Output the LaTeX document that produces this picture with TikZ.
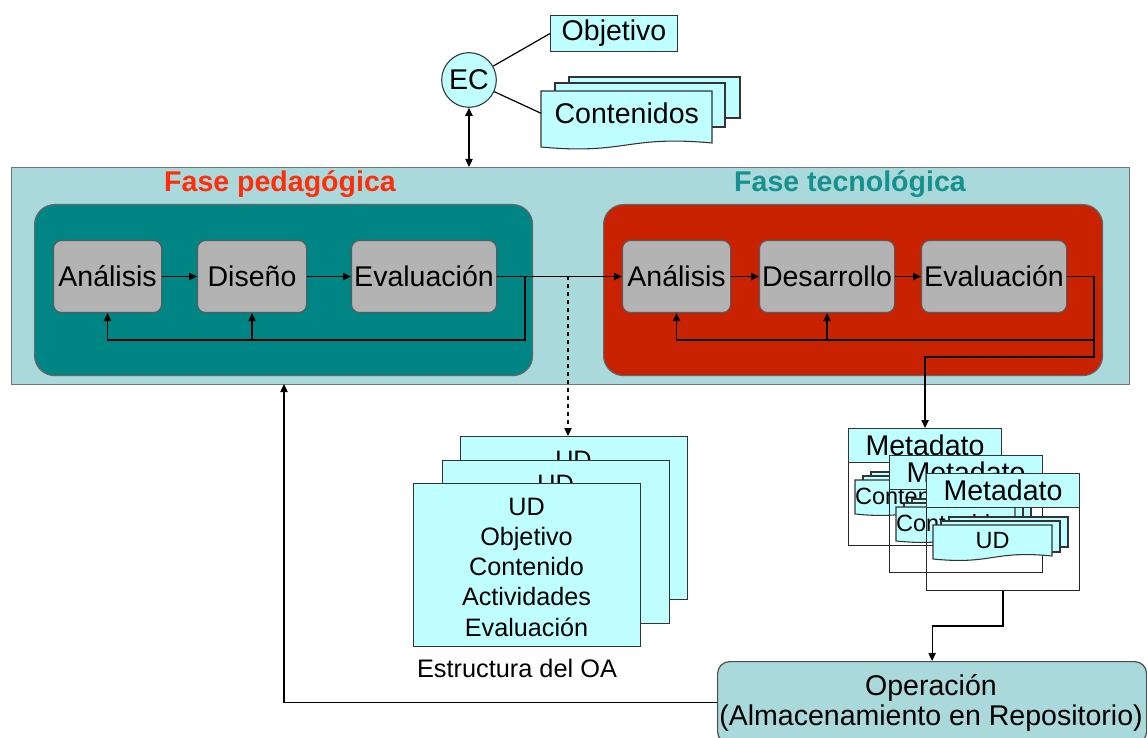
\documentclass[tikz,border=0pt]{standalone}
\usepackage{fontspec}
\setmainfont{Liberation Sans}
\usetikzlibrary{arrows.meta}
\definecolor{outerbg}{HTML}{AAD9DC}
\definecolor{tealbg}{HTML}{008585}
\definecolor{redbg}{HTML}{C82200}
\definecolor{graybox}{HTML}{B3B3B3}
\definecolor{cyanbox}{HTML}{BFFFFF}
\definecolor{titlered}{HTML}{FF2D0A}
\definecolor{titleteal}{HTML}{16918E}
\def\u{0.75pt}
\newcommand{\fbig}{\fontsize{21.4}{25}\selectfont}
\newcommand{\fmid}{\fontsize{18.9}{22.7}\selectfont}
\newcommand{\fsml}{\fontsize{17.6}{20}\selectfont}
% document shape: x1 y1 x2 y2 amplitude
\newcommand{\docshape}[5]{\filldraw[docst] (#1,#2) -- (#3,#2) -- (#3,{#4-#5}) .. controls ({(#1+#3)/2},{#4-3*#5}) and ({(#1+#3)/2},{#4+2*#5}) .. (#1,#4) -- cycle;}
\newcommand{\metacard}[4]{%
  \begin{scope}[shift={(#1,#2)}]
    \node[mbody] (mb#3) at (0,0) {};
    \filldraw[docst] (23,44) rectangle (142,74);
    \filldraw[docst] (15,48) rectangle (134,79);
    \docshape{7}{52}{126}{86}{3}
    \node[font=\fsml] at (66.5,68) {#4};
    \node[mhead] (mh#3) at (0,0) {Metadato};
  \end{scope}}
\begin{document}
\begin{tikzpicture}[x=0.75pt,y=-0.75pt,
  >={Triangle[length=6pt,width=5.5pt]},
  arr/.style={->,line width=0.9pt,black},
  ln/.style={line width=0.9pt,black},
  docst/.style={fill=cyanbox,draw=black!80,line width=0.8pt},
  gbox/.style={draw=black!65,line width=0.8pt,fill=graybox,rounded corners=6pt,minimum height=72*\u,inner sep=0pt,anchor=north west,font=\fbig},
  cbox/.style={draw=black!80,line width=0.8pt,fill=cyanbox,inner sep=0pt,anchor=north west},
  mbody/.style={draw=black!85,line width=0.8pt,anchor=north west,inner sep=0pt,minimum width=153*\u,minimum height=117*\u},
  mhead/.style={cbox,minimum width=153*\u,minimum height=34*\u,font=\fbig},
  udcard/.style={cbox,minimum width=227*\u,minimum height=163*\u},
]
\useasboundingbox (0,0) rectangle (1147,738);

% outer band and phase boxes
\node[anchor=north west,fill=outerbg,draw=black!55,line width=1.1pt,inner sep=0pt,minimum width=1118*\u,minimum height=217*\u] (outer) at (11,167) {};
\node[anchor=north west,fill=tealbg,draw=black!60,line width=0.9pt,rounded corners=15pt,inner sep=0pt,minimum width=498*\u,minimum height=171*\u] (ped) at (34,204) {};
\node[anchor=north west,fill=redbg,draw=black!60,line width=0.9pt,rounded corners=15pt,inner sep=0pt,minimum width=499*\u,minimum height=171*\u] (tec) at (603,204) {};
\node[font=\bfseries\fbig,text=titlered] (tped) at (280,184) {Fase pedagógica};
\node[font=\bfseries\fbig,text=titleteal] (ttec) at (850,184) {Fase tecnológica};

% process boxes
\node[gbox,minimum width=108*\u] (pa) at (53,240) {Análisis};
\node[gbox,minimum width=109*\u] (pd) at (197,240) {Diseño};
\node[gbox,minimum width=145*\u] (pe) at (351,240) {Evaluación};
\node[gbox,minimum width=108*\u] (ta) at (622,240) {Análisis};
\node[gbox,minimum width=135*\u] (td) at (759,240) {Desarrollo};
\node[gbox,minimum width=145*\u] (te) at (921,240) {Evaluación};

% EC, Objetivo, Contenidos
\filldraw[docst] (569,77) rectangle (740,118);
\filldraw[docst] (555,83) rectangle (725,127);
\docshape{541}{91}{712}{147}{4}
\node[anchor=north west,inner sep=0pt,minimum width=171*\u,minimum height=44*\u,font=\fbig] (cont) at (541,91) {Contenidos};
\node[cbox,minimum width=127*\u,minimum height=36*\u,font=\fbig] (obj) at (550,15) {Objetivo};
\node[circle,draw=black!80,line width=0.8pt,fill=cyanbox,minimum size=41pt,inner sep=0pt,font=\fbig] (ec) at (469,80) {EC};

% UD stack
\node[udcard] (ud3) at (460,436) {};
\node[font=\fmid] at (573.5,460) {UD};
\node[udcard] (ud2) at (442,460) {};
\node[font=\fmid] at (555.5,484) {UD};
\node[udcard] (ud1) at (413,483) {};
\node[font=\fmid,align=center] (udtxt) at (526.5,567) {UD\\Objetivo\\Contenido\\Actividades\\Evaluación};
\node[font=\fontsize{19}{22}\selectfont] (cap) at (517,668) {Estructura del OA};

% metadata stack
\metacard{848}{428}{1}{Contenidos}
\metacard{889}{455}{2}{Contenidos}
\metacard{926}{473}{3}{UD}

% operation box
\node[anchor=north west,fill=outerbg,draw=black!70,line width=0.9pt,rounded corners=9pt,inner sep=0pt,minimum width=429*\u,minimum height=82*\u] (op) at (717,661) {};
\node[font=\fbig] (opt1) at (931,688) {Operación};
\node[font=\fbig] (opt2) at (931,718) {(Almacenamiento en Repositorio)};

% connectors
\draw[ln] (ec) -- (obj.west);
\draw[ln] (ec) -- (cont.west);
\draw[<->,line width=0.9pt] (ec.south) -- (ec.south |- outer.north);

\draw[arr] (pa) -- (pd);
\draw[arr] (pd) -- (pe);
\draw[arr] (pe) -- (ta);
\coordinate (pfr) at (525,340);
\draw[arr] (pe.east) -| (pfr) -| (pa.south);
\draw[arr] (pd.south |- pfr) -- (pd.south);

\draw[arr] (ta) -- (td);
\draw[arr] (td) -- (te);
\coordinate (tfr) at (1094,340);
\coordinate (tdn) at (1094,357);
\draw[arr] (te.east) -| (tfr) -| (ta.south);
\draw[arr] (td.south |- tfr) -- (td.south);
\draw[arr] (tfr) -- (tdn) -| (mh1.north);

\coordinate (dsp) at (568,276);
\draw[arr,dashed] (dsp) -- (dsp |- ud3.north);

\draw[arr] (mb3.south) -- ++(0,35) -| (op.north);
\coordinate (lft) at (284,384);
\draw[arr] (op.west) -| (lft);
\end{tikzpicture}
\end{document}
